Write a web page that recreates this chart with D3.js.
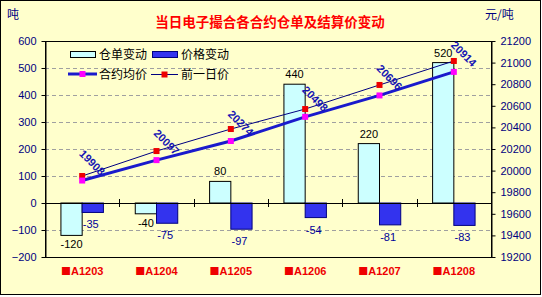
<!DOCTYPE html>
<html lang="zh">
<head>
<meta charset="UTF-8">
<script src="https://cdn.jsdelivr.net/npm/d3@7"></script>
<style>
  body { margin: 0; background: #fff; }
  svg text { font-family: "Liberation Sans", "Noto Sans CJK SC", sans-serif; }
  .cjk { font-family: "Noto Sans CJK SC", sans-serif; }
</style>
</head>
<body>
<div id="chart"></div>
<script>
// data
const categories = ["■A1203", "■A1204", "■A1205", "■A1206", "■A1207", "■A1208"];
const warrantChange = [-120, -40, 80, 440, 220, 520];   // 仓单变动 (吨)
const priceChange = [-35, -75, -97, -54, -81, -83];     // 价格变动
const avgPrice = [19908, 20097, 20274, 20498, 20696, 20914]; // 合约均价
const prevPrice = [19950, 20181, 20385, 20570, 20793, 21015]; // 前一日价
const leftTicks = [600, 500, 400, 300, 200, 100, 0, -100, -200];
const rightTicks = [21200, 21000, 20800, 20600, 20400, 20200, 20000, 19800, 19600, 19400, 19200];

const W = 542, H = 297;
const plot = { left: 45, right: 491, top: 41, bottom: 257 };

const svg = d3.select("#chart").append("svg").attr("width", W).attr("height", H);
svg.append("rect").attr("x", 0.5).attr("y", 0.5).attr("width", W - 2).attr("height", H - 3)
  .attr("fill", "#ffffcc").attr("stroke", "#000");

const x = d3.scaleBand().domain(categories).range([plot.left, plot.right]);
const xSub = d3.scaleBand().domain(["w", "p"]).range([0, x.bandwidth()]).paddingOuter(0.75);
const yL = d3.scaleLinear().domain([-200, 600]).range([plot.bottom, plot.top]);
const yR = d3.scaleLinear().domain([19200, 21200]).range([plot.bottom, plot.top]);

// grid
svg.append("g").selectAll("line").data(leftTicks.filter(d => d !== 600 && d !== -200 && d !== 0)).join("line")
  .attr("x1", plot.left).attr("x2", plot.right)
  .attr("y1", d => Math.round(yL(d)) + 0.5).attr("y2", d => Math.round(yL(d)) + 0.5)
  .attr("stroke", "#a0a0a0").attr("stroke-dasharray", "4,3");

// bars
const bars = svg.append("g");
bars.selectAll(".w").data(warrantChange).join("rect").attr("class", "w")
  .attr("x", (d, i) => x(categories[i]) + xSub("w"))
  .attr("y", d => yL(Math.max(0, d)))
  .attr("width", xSub.bandwidth())
  .attr("height", d => Math.abs(yL(d) - yL(0)))
  .attr("fill", "#ccffff").attr("stroke", "#000");
bars.selectAll(".p").data(priceChange).join("rect").attr("class", "p")
  .attr("x", (d, i) => x(categories[i]) + xSub("p"))
  .attr("y", d => yL(Math.max(0, d)))
  .attr("width", xSub.bandwidth())
  .attr("height", d => Math.abs(yL(d) - yL(0)))
  .attr("fill", "#3333ee").attr("stroke", "#000080");

// plot frame and zero line
svg.append("rect").attr("x", plot.left + 0.5).attr("y", plot.top + 0.5)
  .attr("width", plot.right - plot.left).attr("height", plot.bottom - plot.top)
  .attr("fill", "none").attr("stroke", "#000");
svg.append("line").attr("x1", plot.left).attr("x2", plot.right)
  .attr("y1", Math.round(yL(0)) + 0.5).attr("y2", Math.round(yL(0)) + 0.5).attr("stroke", "#000");
svg.append("g").selectAll("line").data(categories.slice(1)).join("line")
  .attr("x1", d => Math.round(x(d)) + 0.5).attr("x2", d => Math.round(x(d)) + 0.5)
  .attr("y1", yL(0) - 4).attr("y2", yL(0) + 4).attr("stroke", "#000");

// axes
const axL = svg.append("g").attr("transform", `translate(${plot.left + 0.5},0)`)
  .call(d3.axisLeft(yL).tickValues(leftTicks).tickSize(4).tickSizeOuter(0));
const axR = svg.append("g").attr("transform", `translate(${plot.right + 0.5},0)`)
  .call(d3.axisRight(yR).tickValues(rightTicks).tickSize(4).tickSizeOuter(0).tickFormat(d3.format("d")));
[axL, axR].forEach(a => {
  a.select(".domain").attr("stroke", "#000");
  a.selectAll(".tick line").attr("stroke", "#000");
  a.selectAll(".tick text").attr("fill", "#000080").style("font-size", "11px");
});
axL.selectAll(".tick text").attr("x", -9);
axR.selectAll(".tick text").attr("x", 9);

// category labels (square glyph drawn with the CJK font, as in the original)
const catText = svg.append("g").selectAll("text").data(categories).join("text")
  .attr("x", d => x(d) + x.bandwidth() / 2).attr("y", 275)
  .attr("text-anchor", "middle").attr("fill", "#ee0000")
  .style("font-size", "11px").style("font-weight", "bold");
catText.append("tspan").attr("class", "cjk").style("font-size", "10px").text(d => d.slice(0, 1));
catText.append("tspan").text(d => d.slice(1));

// bar labels
const labels = svg.append("g").style("font-size", "11px").attr("text-anchor", "middle");
labels.selectAll(".wl").data(warrantChange).join("text")
  .attr("x", (d, i) => x(categories[i]) + xSub("w") + xSub.bandwidth() / 2)
  .attr("y", d => d >= 0 ? yL(d) - 6 : yL(d) + 13)
  .attr("fill", "#000").text(d => d);
labels.selectAll(".pl").data(priceChange).join("text")
  .attr("x", (d, i) => x(categories[i]) + xSub("p") + xSub.bandwidth() / 2 - 2)
  .attr("y", d => yL(d) + 16)
  .attr("fill", "#000099").text(d => d);

// lines
const cx = i => x(categories[i]) + x.bandwidth() / 2;
const priceLine = d3.line().x((d, i) => cx(i)).y(d => yR(d));
svg.append("path").datum(prevPrice).attr("d", priceLine)
  .attr("fill", "none").attr("stroke", "#000080").attr("stroke-width", 1);
svg.append("path").datum(avgPrice).attr("d", priceLine)
  .attr("fill", "none").attr("stroke", "#1a1acc").attr("stroke-width", 3);
svg.append("g").selectAll("rect").data(prevPrice).join("rect")
  .attr("x", (d, i) => cx(i) - 3).attr("y", d => yR(d) - 3)
  .attr("width", 6).attr("height", 6).attr("fill", "#ee0000");
svg.append("g").selectAll("rect").data(avgPrice).join("rect")
  .attr("x", (d, i) => cx(i) - 3).attr("y", d => yR(d) - 3)
  .attr("width", 6).attr("height", 6).attr("fill", "#ff00ff");

// rotated price labels
svg.append("g").selectAll("text").data(avgPrice).join("text")
  .attr("transform", (d, i) => `translate(${cx(i) + 10},${yR(d) - 18}) rotate(45)`)
  .attr("text-anchor", "middle").attr("dy", "0.35em")
  .attr("fill", "#1414b4").style("font-size", "11px").style("font-weight", "bold")
  .text(d => d);

// titles
svg.append("text").attr("class", "cjk").attr("x", 270).attr("y", 27).attr("text-anchor", "middle")
  .attr("fill", "#ff0000").style("font-size", "13.5px").style("font-weight", "bold")
  .text("当日电子撮合各合约仓单及结算价变动");
svg.append("text").attr("class", "cjk").attr("x", 7).attr("y", 19)
  .attr("fill", "#000080").style("font-size", "12px").text("吨");
svg.append("text").attr("class", "cjk").attr("x", 485).attr("y", 19)
  .attr("fill", "#000080").style("font-size", "12px").text("元/吨");

// legend
const lg = svg.append("g").attr("class", "cjk").style("font-size", "12px");
lg.append("rect").attr("x", 70.5).attr("y", 51.5).attr("width", 25).attr("height", 6).attr("fill", "#ccffff").attr("stroke", "#000");
lg.append("rect").attr("x", 152.5).attr("y", 51.5).attr("width", 25).attr("height", 6).attr("fill", "#3333ee").attr("stroke", "#000080");
lg.append("line").attr("x1", 68).attr("x2", 97).attr("y1", 74).attr("y2", 74).attr("stroke", "#1a1acc").attr("stroke-width", 3);
lg.append("rect").attr("x", 79.5).attr("y", 71).attr("width", 6).attr("height", 6).attr("fill", "#ff00ff");
lg.append("line").attr("x1", 151).attr("x2", 178).attr("y1", 74.5).attr("y2", 74.5).attr("stroke", "#000080");
lg.append("rect").attr("x", 161.5).attr("y", 71.5).attr("width", 6).attr("height", 6).attr("fill", "#ee0000");
[["仓单变动", 99, 59], ["价格变动", 181, 59], ["合约均价", 99, 79], ["前一日价", 181, 79]].forEach(([t, lx, ly]) => {
  lg.append("text").attr("x", lx).attr("y", ly).attr("fill", "#000").text(t);
});
</script>
</body>
</html>
